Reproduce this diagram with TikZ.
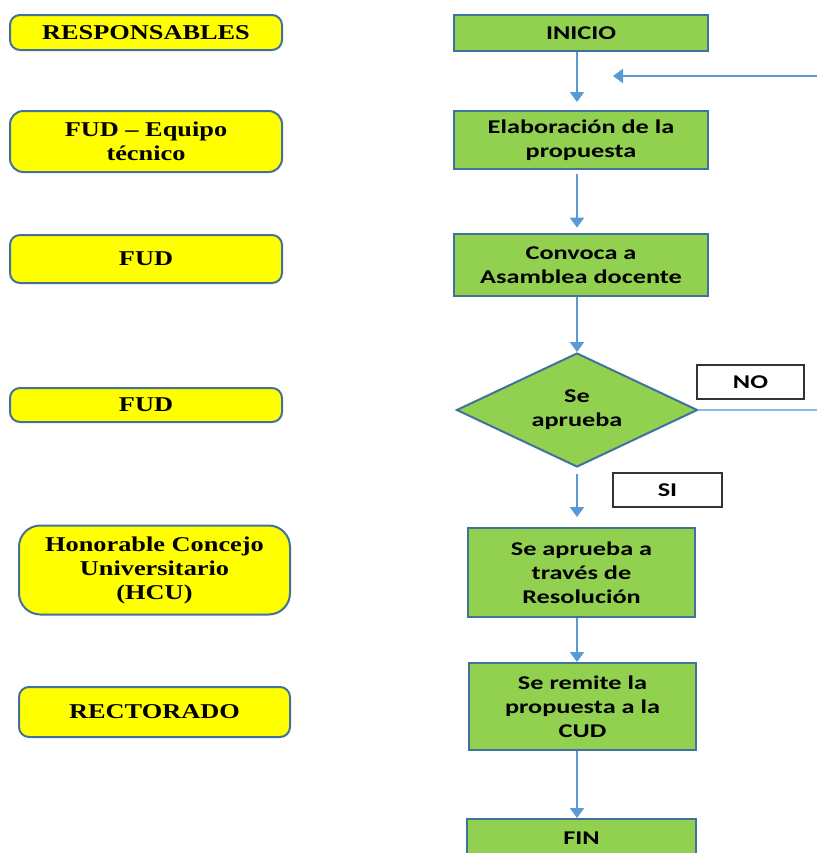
\documentclass[tikz,border=0pt]{standalone}
\usepackage{fontspec}
\usetikzlibrary{shapes.geometric,arrows.meta}
\newfontfamily\leftfont[FakeStretch=1.25]{Liberation Serif}
\newfontfamily\rightfont[FakeStretch=1.35]{Carlito}
\definecolor{ybox}{HTML}{FFFF00}
\definecolor{gbox}{HTML}{92D050}
\definecolor{bord}{HTML}{41719C}
\definecolor{arr}{HTML}{5B9BD5}
\tikzset{
  resp/.style={draw=bord, line width=1.5pt, fill=ybox, rounded corners=7.5pt, align=center,
    font=\leftfont\bfseries\fontsize{15.8}{18}\selectfont, inner sep=0pt},
  stepbox/.style={draw=bord, line width=1.5pt, fill=gbox, align=center,
    font=\rightfont\bfseries\fontsize{14.6}{18}\selectfont, inner sep=0pt},
  lbl/.style={draw=black!80, line width=0.8pt, fill=white, align=center,
    font=\rightfont\bfseries\fontsize{14.6}{18}\selectfont, inner sep=0pt},
  flow/.style={draw=arr, line width=1.5pt, -{Triangle[width=10.5pt,length=7.5pt]}},
}
\begin{document}
\begin{tikzpicture}[x=0.75pt,y=-0.75pt]
\useasboundingbox (0,0) rectangle (817,853);
\clip (0,0) rectangle (817,853);
% left column
\node[resp, minimum width=204pt, minimum height=26.25pt] (r1) at (146,32.5) {RESPONSABLES};
\node[resp, minimum width=204pt, minimum height=45.75pt, rounded corners=10pt] (r2) at (146,141.5) {FUD – Equipo\\técnico};
\node[resp, minimum width=204pt, minimum height=36pt] (r3) at (146,259) {FUD};
\node[resp, minimum width=204pt, minimum height=25.5pt] (r4) at (146,405) {FUD};
\node[resp, minimum width=203.25pt, minimum height=66.75pt, rounded corners=16pt] (r5) at (154.5,570) {Honorable Concejo\\Universitario\\(HCU)};
\node[resp, minimum width=203.25pt, minimum height=37.5pt] (r6) at (154.5,712) {RECTORADO};
% right column
\node[stepbox, minimum width=190.5pt, minimum height=27pt] (ini) at (581,33) {INICIO};
\node[stepbox, minimum width=190.5pt, minimum height=43.5pt] (ela) at (581,140) {Elaboración de la\\propuesta};
\node[stepbox, minimum width=190.5pt, minimum height=46.5pt] (con) at (581,265) {Convoca a\\Asamblea docente};
\node[stepbox, shape=diamond, aspect=2.11, minimum width=180.75pt, minimum height=85.5pt] (dec) at (577,410) {Se\\aprueba};
\node[stepbox, minimum width=170.25pt, minimum height=66.75pt] (res) at (581.5,572.5) {Se aprueba a\\través de\\Resolución};
\node[stepbox, minimum width=170.25pt, minimum height=65.25pt] (rem) at (582.5,706.5) {Se remite la\\propuesta a la\\CUD};
\node[stepbox, minimum width=171.75pt, minimum height=28.5pt] (fin) at (581.5,838) {FIN};
\node[lbl, minimum width=80.25pt, minimum height=25.5pt] (no) at (750.5,382) {NO};
\node[lbl, minimum width=81.75pt, minimum height=25.5pt] (si) at (667.5,490) {SI};
% free ends
\coordinate (retR) at (817,76);
\coordinate (retL) at (613,76);
\coordinate (noR) at (817,410);
% connectors
\draw[flow, shorten >=6pt] (ini.south -| dec.center) -- (ela.north -| dec.center);
\draw[flow, shorten <=3pt, shorten >=4pt] (ela.south -| dec.center) -- (con.north -| dec.center);
\draw[flow] (con.south -| dec.center) -- (dec.north);
\draw[flow, shorten <=4.5pt, shorten >=7.5pt] (dec.south) -- (res.north -| dec.center);
\draw[flow] (res.south -| dec.center) -- (rem.north -| dec.center);
\draw[flow] (rem.south -| dec.center) -- (fin.north -| dec.center);
\draw[flow] (retR) -- (retL);
\draw[draw=arr!70, line width=1.2pt] (dec.east) -- (noR);
\end{tikzpicture}
\end{document}
